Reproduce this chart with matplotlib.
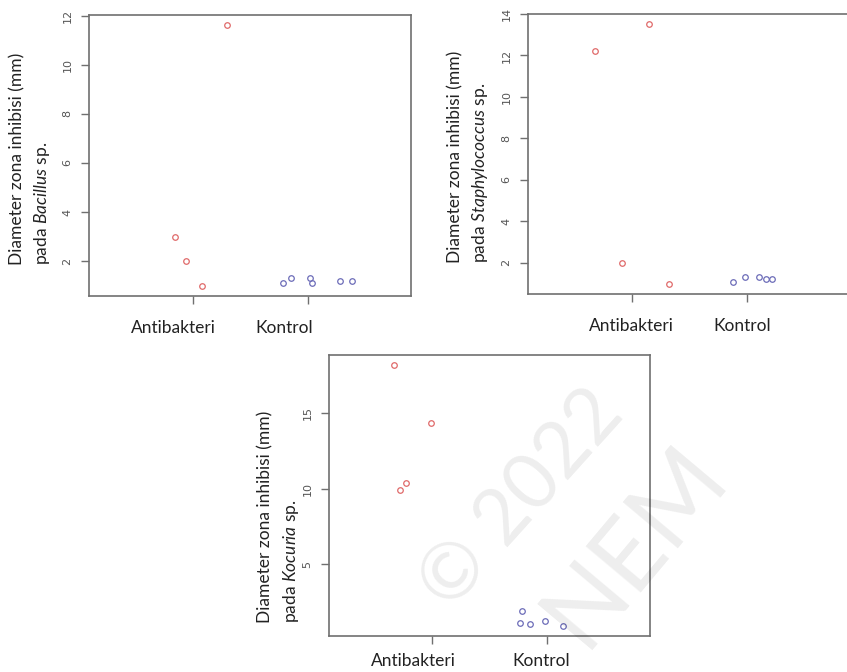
#!/usr/bin/env python3
"""Inhibition zone diameter strip charts (three bacteria)."""
import matplotlib
matplotlib.use("Agg")
import matplotlib.pyplot as plt

plt.rcParams.update({
    "font.family": "Lato",
    "mathtext.fontset": "custom",
    "mathtext.rm": "Lato",
    "mathtext.it": "Lato:italic",
})

groups = ["Antibakteri", "Kontrol"]

# Bacillus sp.
bac_anti_x = [0.85, 0.94, 1.08, 1.30]
bac_anti_y = [3.0, 2.0, 1.0, 11.6]
bac_kon_x = [1.79, 1.86, 2.02, 2.04, 2.28, 2.39]
bac_kon_y = [1.1, 1.3, 1.3, 1.1, 1.2, 1.2]

# Staphylococcus sp.
sta_anti_x = [0.68, 0.92, 1.15, 1.33]
sta_anti_y = [12.2, 2.0, 13.5, 1.0]
sta_kon_x = [1.88, 1.99, 2.11, 2.17, 2.22]
sta_kon_y = [1.1, 1.3, 1.3, 1.2, 1.2]

# Kocuria sp.
koc_anti_x = [0.67, 0.72, 0.77, 0.99]
koc_anti_y = [18.15, 9.89, 10.38, 14.34]
koc_kon_x = [1.78, 1.77, 1.85, 1.98, 2.14]
koc_kon_y = [1.93, 1.12, 1.03, 1.23, 0.94]

RED = "#e06a6a"
BLUE = "#6c6cb8"
AXCOL = "#707070"

W, H = 847, 672
fig = plt.figure(figsize=(W / 100, H / 100), dpi=100)


def px_axes(left, top, right, bottom):
    return fig.add_axes([left / W, 1 - bottom / H, (right - left) / W, (bottom - top) / H])


def strip(ax, ax_x, ay, kx, ky, yticks, lab_off, lab_y):
    ax.plot(ax_x, ay, "o", mfc="none", mec=RED, ms=4, mew=0.9)
    ax.plot(kx, ky, "o", mfc="none", mec=BLUE, ms=4, mew=0.9)
    lo = min(ay + ky)
    hi = max(ay + ky)
    pad = 0.04 * (hi - lo)
    ax.set_ylim(lo - pad, hi + pad)
    ax.set_xlim(0.1, 2.9)
    ax.set_yticks(yticks)
    ax.set_yticklabels([str(t) for t in yticks], rotation=90, va="center",
                       fontsize=8, color="#555555", family="DejaVu Sans")
    ax.set_xticks([1, 2])
    ax.set_xticklabels([])
    ax.tick_params(length=6, width=1.0, color=AXCOL, pad=6)
    for s in ax.spines.values():
        s.set_color(AXCOL)
        s.set_linewidth(1.2)
    for i, g in enumerate(groups):
        ax.text(i + 1 + lab_off[i], lab_y, g, transform=ax.get_xaxis_transform(),
                ha="center", va="center", fontsize=12.5, color="#222222")


def ylabel(x1, x2, ybot, genus):
    fig.text(x1 / W, 1 - ybot / H, "Diameter zona inhibisi (mm)", rotation=90,
             ha="center", va="bottom", fontsize=12.5, color="#222222")
    fig.text(x2 / W, 1 - ybot / H, r"pada $\mathit{" + genus + "}$ sp.", rotation=90,
             ha="center", va="bottom", fontsize=12.5, color="#222222")


ax1 = px_axes(89, 15, 411, 296)
strip(ax1, bac_anti_x, bac_anti_y, bac_kon_x, bac_kon_y, [2, 4, 6, 8, 10, 12],
      (-0.17, -0.2), -0.115)
ylabel(17, 42, 265, "Bacillus")

ax2 = px_axes(528, 14, 850, 294)
strip(ax2, sta_anti_x, sta_anti_y, sta_kon_x, sta_kon_y, [2, 4, 6, 8, 10, 12, 14],
      (0.0, -0.04), -0.115)
ylabel(455, 480, 263, "Staphylococcus")

ax3 = px_axes(329, 355, 650, 636)
strip(ax3, koc_anti_x, koc_anti_y, koc_kon_x, koc_kon_y, [5, 10, 15],
      (-0.16, -0.05), -0.09)
ylabel(265, 291, 623, "Kocuria")

# faint watermark
fig.text(522 / W, 1 - 500 / H, "© 2022", rotation=48, ha="center", va="center",
         fontsize=56, color="#000000", alpha=0.07)
fig.text(635 / W, 1 - 545 / H, "NEM", rotation=50, ha="center", va="center",
         fontsize=72, color="#000000", alpha=0.07)

fig.savefig("out.png", dpi=100)
